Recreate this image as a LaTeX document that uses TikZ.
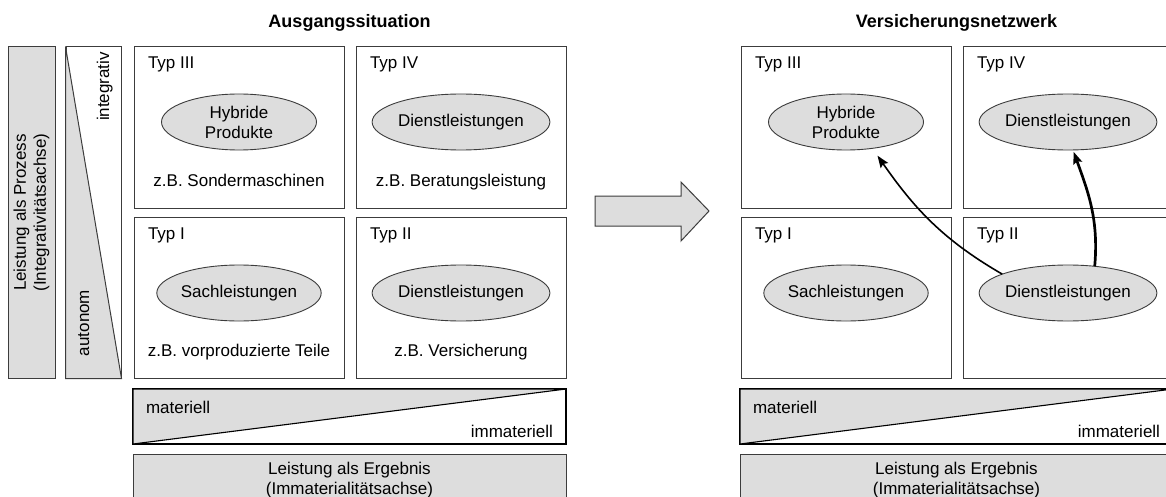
\documentclass[tikz,border=0pt]{standalone}
\usepackage{fontspec}
\setmainfont{Liberation Sans}
\usetikzlibrary{shapes.geometric,arrows.meta}

\definecolor{panelgray}{RGB}{221,221,221}
\definecolor{edge}{RGB}{60,60,60}

\begin{document}
\begin{tikzpicture}[x=1pt,y=-1pt,
  txt/.style={font=\fontsize{17pt}{20pt}\selectfont, inner sep=0pt, outer sep=0pt},
  heading/.style={font=\fontsize{18pt}{20pt}\selectfont\bfseries, inner sep=0pt, anchor=base},
  typbox/.style={draw=edge, line width=1pt, fill=white, minimum width=210pt, minimum height=161pt, inner sep=0pt, outer sep=0pt},
  typlbl/.style={txt, anchor=base west},
  example/.style={txt, anchor=base},
  kind/.style={ellipse, draw=edge, fill=panelgray, line width=0.9pt, minimum width=155pt, minimum height=56pt, inner sep=0pt, outer sep=0pt, align=center, font=\fontsize{17pt}{20pt}\selectfont},
  axisbar/.style={draw=edge, line width=1pt, minimum width=433pt, inner sep=0pt, outer sep=0pt},
  conn/.style={-{Stealth[length=12pt,width=9pt,inset=2pt]}, black, line width=1.6pt},
]
\useasboundingbox (0,0) rectangle (1166,497);
\fill[white] (0,0) rectangle (1166,497);
\clip (0,0) rectangle (1166,497);

% ---------- starting situation ----------
\node[heading] (titleL) at (349.5,27.5) {Ausgangssituation};

% process axis (vertical)
\node[rotate=90, draw=edge, line width=1pt, fill=panelgray, minimum width=331pt, minimum height=47pt,
      inner sep=0pt, align=center, font=\fontsize{17pt}{20pt}\selectfont] (procbar) at (31.5,212.5)
      {Leistung als Prozess\\(Integrativitätsachse)};
\node[draw=edge, line width=1pt, minimum width=55pt, minimum height=331pt, inner sep=0pt] (intbar) at (93.5,212.5) {};
\filldraw[fill=panelgray, draw=edge, line width=1pt] (intbar.north west) -- (intbar.south east) -- (intbar.south west) -- cycle;
\node[txt, rotate=90, anchor=base east] (intlbl) at (109,52) {integrativ};
\node[txt, rotate=90, anchor=base west] (autlbl) at (89,356) {autonom};

% the four types
\node[typbox] (L3) at (239,127.5) {};
\node[typbox] (L4) at (461,127.5) {};
\node[typbox] (L1) at (239,297.5) {};
\node[typbox] (L2) at (461,297.5) {};

\node[typlbl] at ([xshift=14pt,yshift=-22pt]L3.north west) {Typ III};
\node[typlbl] at ([xshift=14pt,yshift=-22pt]L4.north west) {Typ IV};
\node[typlbl] at ([xshift=14pt,yshift=-22pt]L1.north west) {Typ I};
\node[typlbl] at ([xshift=14pt,yshift=-22pt]L2.north west) {Typ II};

\node[kind] (LhIII) at ([yshift=5.5pt]L3.center) {Hybride\\Produkte};
\node[kind] (LdIV)  at ([yshift=5.5pt]L4.center) {Dienstleistungen};
\node[kind] (LsI)   at ([yshift=4.5pt]L1.center) {Sachleistungen};
\node[kind] (LdII)  at ([yshift=4.5pt]L2.center) {Dienstleistungen};

\node[example] at ([yshift=22pt]L3.south) {z.B. Sondermaschinen};
\node[example] at ([yshift=22pt]L4.south) {z.B. Beratungsleistung};
\node[example] at ([yshift=22pt]L1.south) {z.B. vorproduzierte Teile};
\node[example] at ([yshift=22pt]L2.south) {z.B. Versicherung};

% result axis (horizontal)
\node[axisbar, draw=black, line width=1.3pt, fill=white, minimum height=55pt] (matL) at (349.5,416.5) {};
\filldraw[fill=panelgray, draw=black, line width=1.1pt] (matL.north west) -- (matL.north east) -- (matL.south west) -- cycle;
\node[typlbl] at ([xshift=13pt,yshift=-24pt]matL.north west) {materiell};
\node[txt, anchor=base east] at ([xshift=-13pt,yshift=7pt]matL.south east) {immateriell};

\node[axisbar, fill=panelgray, minimum height=56pt] (ergL) at (349.5,482) {};
\node[txt, align=center] at (349.5,479.6) {Leistung als Ergebnis\\(Immaterialitätsachse)};

% ---------- transition ----------
\filldraw[fill=panelgray, draw=edge, line width=1pt]
  (595,196) -- (681,196) -- (681,182) -- (709,211) -- (681,241) -- (681,226) -- (595,226) -- cycle;

% ---------- insurance network ----------
\node[heading] (titleR) at (956.5,27.5) {Versicherungsnetzwerk};

\node[typbox] (R3) at (846,127.5) {};
\node[typbox] (R4) at (1068,127.5) {};
\node[typbox] (R1) at (846,297.5) {};
\node[typbox] (R2) at (1068,297.5) {};

\node[typlbl] at ([xshift=14pt,yshift=-22pt]R3.north west) {Typ III};
\node[typlbl] at ([xshift=14pt,yshift=-22pt]R4.north west) {Typ IV};
\node[typlbl] at ([xshift=14pt,yshift=-22pt]R1.north west) {Typ I};
\node[typlbl] at ([xshift=14pt,yshift=-22pt]R2.north west) {Typ II};

\node[kind] (RhIII) at ([yshift=5.5pt]R3.center) {Hybride\\Produkte};
\node[kind] (RdIV)  at ([yshift=5.5pt]R4.center) {Dienstleistungen};
\node[kind] (RsI)   at ([yshift=4.5pt]R1.center) {Sachleistungen};
\node[kind] (RdII)  at ([yshift=4.5pt]R2.center) {Dienstleistungen};

\draw[conn, shorten >=9pt] (RdII.164) to[out=150,in=-55] (RhIII.-45);
\draw[conn, line width=2.7pt, shorten >=2pt] (RdII.45) to[out=85,in=-70] (RdIV.-80);

\node[axisbar, draw=black, line width=1.3pt, fill=white, minimum height=55pt] (matR) at (956.5,416.5) {};
\filldraw[fill=panelgray, draw=black, line width=1.1pt] (matR.north west) -- (matR.north east) -- (matR.south west) -- cycle;
\node[typlbl] at ([xshift=13pt,yshift=-24pt]matR.north west) {materiell};
\node[txt, anchor=base east] at ([xshift=-13pt,yshift=7pt]matR.south east) {immateriell};

\node[axisbar, fill=panelgray, minimum height=56pt] (ergR) at (956.5,482) {};
\node[txt, align=center] at (956.5,479.6) {Leistung als Ergebnis\\(Immaterialitätsachse)};
\end{tikzpicture}
\end{document}
